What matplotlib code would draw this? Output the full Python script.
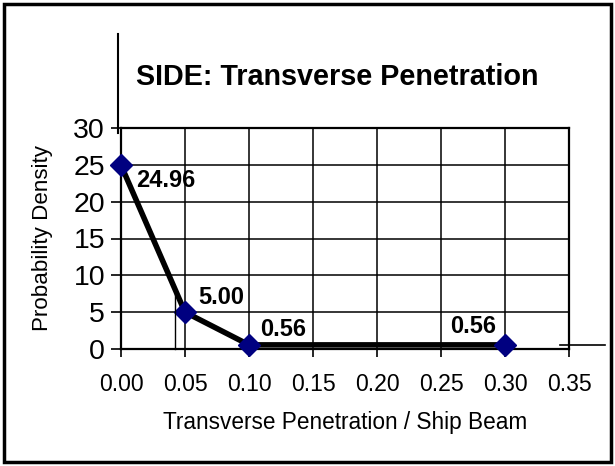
import matplotlib
matplotlib.use('Agg')
import matplotlib.pyplot as plt
from matplotlib.lines import Line2D
from matplotlib.patches import Rectangle

# --- DATA ---
penetration = [0.00, 0.05, 0.10, 0.30]
density = [24.96, 5.00, 0.56, 0.56]
point_labels = ['24.96', '5.00', '0.56', '0.56']
label_offsets = [(45, -15), (36, 15), (34, 15), (-32, 18)]  # pixel offsets from each point

x_ticks = [0.00, 0.05, 0.10, 0.15, 0.20, 0.25, 0.30, 0.35]
y_ticks = [0, 5, 10, 15, 20, 25, 30]

W, H = 615, 466
plt.rcParams['font.family'] = ['Liberation Sans', 'DejaVu Sans']

fig = plt.figure(figsize=(W / 100, H / 100), dpi=100)
ax = fig.add_axes([121 / W, 1 - 349 / H, (569 - 121) / W, (349 - 128) / H])

ax.plot(penetration, density, color='black', lw=4, zorder=3, clip_on=False,
        marker='D', markersize=11, markerfacecolor='#000080', markeredgecolor='#000080')

for x, y, lab, (dx, dy) in zip(penetration, density, point_labels, label_offsets):
    ax.annotate(lab, (x, y), xytext=(dx * 0.72, dy * 0.72), textcoords='offset points',
                ha='center', va='center', fontsize=17, fontweight='bold', zorder=4)

ax.set_xlim(0, 0.35)
ax.set_ylim(0, 30)
ax.set_xticks(x_ticks)
ax.set_xticklabels([f'{t:.2f}' for t in x_ticks])
ax.set_yticks(y_ticks)
ax.grid(True, color='black', lw=1.1)
ax.set_axisbelow(True)
for s in ax.spines.values():
    s.set_linewidth(1.6)
ax.tick_params(axis='y', direction='out', length=7.5, width=1.2, labelsize=20.5, pad=4)
ax.tick_params(axis='x', direction='out', length=6, width=1.2, labelsize=16.6, pad=11)

fig.text(337.5 / W, 1 - 77 / H, 'SIDE: Transverse Penetration', ha='center', va='center',
         fontsize=20.7, fontweight='bold')
fig.text(345 / W, 1 - 422 / H, 'Transverse Penetration / Ship Beam', ha='center', va='center',
         fontsize=16.3)
fig.text(43 / W, 1 - 238 / H, 'Probability Density', ha='center', va='center',
         fontsize=16.1, rotation=90)

# stray chart lines from the original sheet
def px_line(x0, y0, x1, y1, lw=1.5):
    fig.add_artist(Line2D([x0 / W, x1 / W], [1 - y0 / H, 1 - y1 / H], color='black', lw=lw))

px_line(117.5, 34, 117.5, 133)
px_line(175, 292, 175, 349, lw=1.0)
px_line(560, 345, 605, 345, lw=1.2)

fig.add_artist(Rectangle((4 / W, 4 / H), (W - 8) / W, (H - 8) / H, transform=fig.transFigure,
                         fill=False, edgecolor='black', lw=2.5))

fig.savefig('out.png', dpi=100)
